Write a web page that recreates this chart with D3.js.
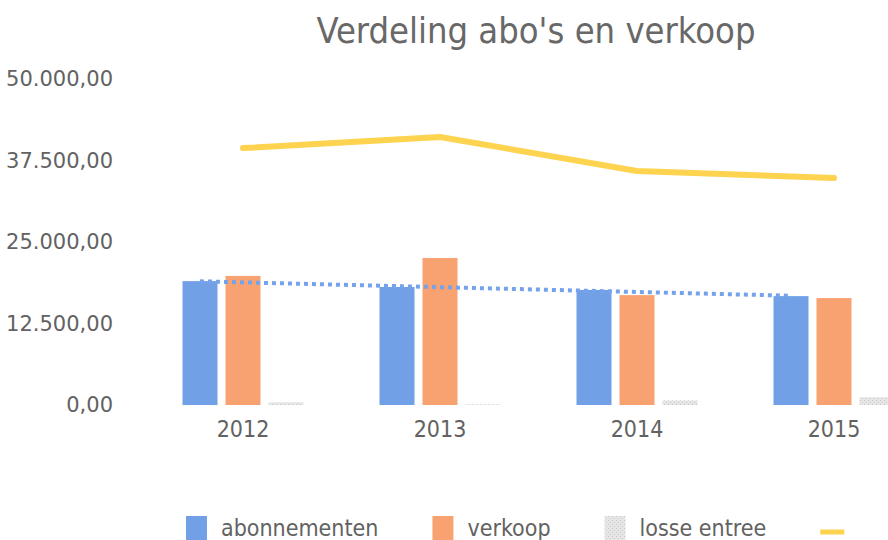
<!DOCTYPE html>
<html>
<head>
<meta charset="utf-8">
<script src="https://cdn.jsdelivr.net/npm/d3@7"></script>
<style>
  html, body { margin: 0; padding: 0; background: #fff; overflow: hidden; }
  svg { display: block; }
</style>
</head>
<body>
<div id="chart"></div>
<script>
// data
const years = ["2012", "2013", "2014", "2015"];
const seriesNames = ["abonnementen", "verkoop", "losse entree"];
const abonnementen = [19000, 18100, 17650, 16700];
const verkoop = [19800, 22550, 16850, 16400];
const losseEntree = [400, 100, 700, 1200];
const lineValues = [39400, 41100, 35900, 34800];
const trendValues = [18970, 16760]; // dotted trend, first and last year
const yTicks = [0, 12500, 25000, 37500, 50000];

const width = 888, height = 540;
const colors = { "abonnementen": "#71a0e6", "verkoop": "#f8a271", "losse entree": "url(#grain)" };
const lineColor = "#fdd34f";
const textColor = "#626262";

const svg = d3.select("#chart")
    .append("svg")
    .attr("width", width)
    .attr("height", height);

// light speckled fill for "losse entree"
const pat = svg.append("defs").append("pattern")
    .attr("id", "grain")
    .attr("width", 4).attr("height", 4)
    .attr("patternUnits", "userSpaceOnUse");
pat.append("rect").attr("width", 4).attr("height", 4).attr("fill", "#e6e6e6");
pat.append("rect").attr("x", 0).attr("y", 0).attr("width", 1).attr("height", 1).attr("fill", "#c4c4c4");
pat.append("rect").attr("x", 2).attr("y", 2).attr("width", 1).attr("height", 1).attr("fill", "#cccccc");

svg.append("text")
    .attr("x", 536)
    .attr("y", 43)
    .attr("text-anchor", "middle")
    .style("font-family", "'DejaVu Sans Condensed', 'DejaVu Sans', sans-serif")
    .style("font-size", "36px")
    .style("fill", "#686868")
    .text("Verdeling abo's en verkoop");

// plot area runs past the right edge of the window, as in the picture
const x0 = d3.scaleBand()
    .domain(years)
    .range([144.5, 932.5]);

const x1 = d3.scaleBand()
    .domain(seriesNames)
    .range([38, 159])
    .paddingInner(0.186);

const y = d3.scaleLinear()
    .domain([0, 50000])
    .range([405, 79]);

const nl = d3.formatLocale({ decimal: ",", thousands: ".", grouping: [3], currency: ["", ""] });

const yAxis = svg.append("g")
    .attr("transform", "translate(113,0)")
    .call(d3.axisLeft(y).tickValues(yTicks).tickSize(0).tickPadding(0).tickFormat(nl.format(",.2f")));
yAxis.select(".domain").remove();
yAxis.selectAll("text")
    .style("font-family", "'DejaVu Sans', sans-serif")
    .style("font-size", "21px")
    .style("fill", textColor);

const xAxis = svg.append("g")
    .attr("transform", "translate(0,405)")
    .call(d3.axisBottom(x0).tickSize(0).tickPadding(16));
xAxis.select(".domain").remove();
xAxis.selectAll("text")
    .style("font-family", "'DejaVu Sans Condensed', 'DejaVu Sans', sans-serif")
    .style("font-size", "23px")
    .style("fill", textColor);

const barData = [];
years.forEach((yr, i) => {
    barData.push({ year: yr, series: "abonnementen", value: abonnementen[i] });
    barData.push({ year: yr, series: "verkoop", value: verkoop[i] });
    barData.push({ year: yr, series: "losse entree", value: losseEntree[i] });
});

svg.selectAll(".bar")
    .data(barData)
    .enter()
    .append("rect")
    .attr("class", "bar")
    .attr("x", d => x0(d.year) + x1(d.series))
    .attr("y", d => y(d.value))
    .attr("width", x1.bandwidth())
    .attr("height", d => y(0) - y(d.value))
    .attr("fill", d => colors[d.series]);

// yellow line through the group centres
const line = d3.line()
    .x((d, i) => x0(years[i]) + x0.bandwidth() / 2)
    .y(d => y(d));

svg.append("path")
    .datum(lineValues)
    .attr("d", line)
    .attr("fill", "none")
    .attr("stroke", lineColor)
    .attr("stroke-width", 6)
    .attr("stroke-linejoin", "round")
    .attr("stroke-linecap", "round");

// dotted trend over the abonnementen bars
const trendYears = [years[0], years[years.length - 1]];
svg.append("path")
    .datum(trendValues)
    .attr("d", d3.line()
        .x((d, i) => x0(trendYears[i]) + x1("abonnementen") + x1.bandwidth() / 2)
        .y(d => y(d)))
    .attr("fill", "none")
    .attr("stroke", "#74a3ea")
    .attr("stroke-width", 4)
    .attr("stroke-dasharray", "4,4");

// legend
const legendItems = seriesNames.concat([""]);
const legend = svg.append("g");
let lx = 186;
legendItems.forEach((name, i) => {
    if (i < 3) {
        legend.append("rect")
            .attr("x", lx)
            .attr("y", 516)
            .attr("width", 21)
            .attr("height", 26)
            .attr("fill", colors[name]);
        const t = legend.append("text")
            .attr("x", lx + 35)
            .attr("y", 536)
            .style("font-family", "'DejaVu Sans Condensed', 'DejaVu Sans', sans-serif")
            .style("font-size", "23px")
            .style("fill", textColor)
            .text(name);
        lx = lx + 35 + t.node().getComputedTextLength() + 54;
    } else {
        legend.append("line")
            .attr("x1", lx)
            .attr("x2", lx + 24)
            .attr("y1", 532)
            .attr("y2", 532)
            .attr("stroke", lineColor)
            .attr("stroke-width", 5);
    }
});
</script>
</body>
</html>
